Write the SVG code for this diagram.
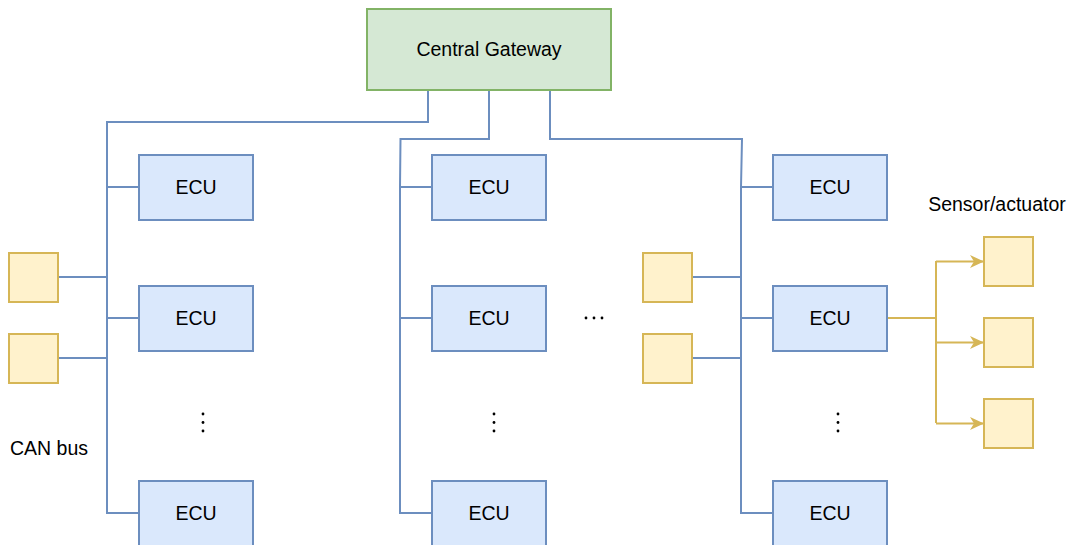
<svg xmlns="http://www.w3.org/2000/svg" width="1072" height="545" viewBox="0 0 1072 545">
  <style>
    text { font-family: "Liberation Sans", Arial, sans-serif; font-size: 19.5px; fill: #000; }
    .ecu { fill: #dae8fc; stroke: #6c8ebf; stroke-width: 2; }
    .gw { fill: #d5e8d4; stroke: #82b366; stroke-width: 2; }
    .sa { fill: #fff2cc; stroke: #d6b656; stroke-width: 2; }
    .bus { fill: none; stroke: #6c8ebf; stroke-width: 2; }
    .sig { fill: none; stroke: #d6b656; stroke-width: 2; }
    .dot { fill: #000; }
  </style>
  <defs>
    <marker id="arr" markerUnits="userSpaceOnUse" markerWidth="16" markerHeight="14" refX="14" refY="7" orient="auto">
      <path d="M14,7 L0,0.5 L4,7 L0,13.5 Z" fill="#d6b656"/>
    </marker>
  </defs>

  <!-- bus wiring -->
  <g id="connectors">
    <path class="bus" d="M428,90 V122 H107 V513 H139"/>
    <path class="bus" d="M107,187 H139 M107,318 H139 M58,277 H107 M58,358 H107"/>
    <path class="bus" d="M489,90 V139 H400.5 L400,187 V513 H432"/>
    <path class="bus" d="M400,187 H432 M400,318 H432"/>
    <path class="bus" d="M550,90 V139 H742 L741,187 V513 H773"/>
    <path class="bus" d="M741,187 H773 M741,318 H773 M692,277 H741 M692,358 H741"/>
    <path class="sig" d="M887,318 H936"/>
    <path class="sig" d="M936,261 V423"/>
    <path class="sig" d="M936,261.5 H984" marker-end="url(#arr)"/>
    <path class="sig" d="M936,342.5 H984" marker-end="url(#arr)"/>
    <path class="sig" d="M936,423.5 H984" marker-end="url(#arr)"/>
  </g>

  <g id="gateway">
    <rect class="gw" x="367" y="9" width="244" height="81"/>
    <text x="489" y="56" text-anchor="middle">Central Gateway</text>
  </g>

  <!-- left column -->
  <g id="ecu-l1"><rect class="ecu" x="139" y="155" width="114" height="65"/><text x="196" y="194" text-anchor="middle">ECU</text></g>
  <g id="ecu-l2"><rect class="ecu" x="139" y="286" width="114" height="65"/><text x="196" y="325" text-anchor="middle">ECU</text></g>
  <g id="ecu-l3"><rect class="ecu" x="139" y="481" width="114" height="65"/><text x="196" y="520" text-anchor="middle">ECU</text></g>
  <g id="dev-l1"><rect class="sa" x="9" y="253" width="49" height="49"/></g>
  <g id="dev-l2"><rect class="sa" x="9" y="334" width="49" height="49"/></g>

  <!-- middle column -->
  <g id="ecu-m1"><rect class="ecu" x="432" y="155" width="114" height="65"/><text x="489" y="194" text-anchor="middle">ECU</text></g>
  <g id="ecu-m2"><rect class="ecu" x="432" y="286" width="114" height="65"/><text x="489" y="325" text-anchor="middle">ECU</text></g>
  <g id="ecu-m3"><rect class="ecu" x="432" y="481" width="114" height="65"/><text x="489" y="520" text-anchor="middle">ECU</text></g>

  <!-- right column -->
  <g id="ecu-r1"><rect class="ecu" x="773" y="155" width="114" height="65"/><text x="830" y="194" text-anchor="middle">ECU</text></g>
  <g id="ecu-r2"><rect class="ecu" x="773" y="286" width="114" height="65"/><text x="830" y="325" text-anchor="middle">ECU</text></g>
  <g id="ecu-r3"><rect class="ecu" x="773" y="481" width="114" height="65"/><text x="830" y="520" text-anchor="middle">ECU</text></g>
  <g id="dev-r1"><rect class="sa" x="643" y="253" width="49" height="49"/></g>
  <g id="dev-r2"><rect class="sa" x="643" y="334" width="49" height="49"/></g>

  <!-- sensors / actuators -->
  <g id="sa-1"><rect class="sa" x="984" y="237" width="49" height="49"/></g>
  <g id="sa-2"><rect class="sa" x="984" y="318" width="49" height="49"/></g>
  <g id="sa-3"><rect class="sa" x="984" y="399" width="49" height="49"/></g>

  <!-- ellipsis marks -->
  <g id="more-l"><circle class="dot" cx="203" cy="414" r="1.4"/><circle class="dot" cx="203" cy="422.5" r="1.4"/><circle class="dot" cx="203" cy="431" r="1.4"/></g>
  <g id="more-m"><circle class="dot" cx="494" cy="414" r="1.4"/><circle class="dot" cx="494" cy="422.5" r="1.4"/><circle class="dot" cx="494" cy="431" r="1.4"/></g>
  <g id="more-r"><circle class="dot" cx="838" cy="414" r="1.4"/><circle class="dot" cx="838" cy="422.5" r="1.4"/><circle class="dot" cx="838" cy="431" r="1.4"/></g>
  <g id="more-h"><circle class="dot" cx="586" cy="318" r="1.4"/><circle class="dot" cx="594" cy="318" r="1.4"/><circle class="dot" cx="602" cy="318" r="1.4"/></g>

  <g id="labels">
    <text x="10" y="455">CAN bus</text>
    <text x="997" y="211" text-anchor="middle">Sensor/actuator</text>
  </g>
</svg>
